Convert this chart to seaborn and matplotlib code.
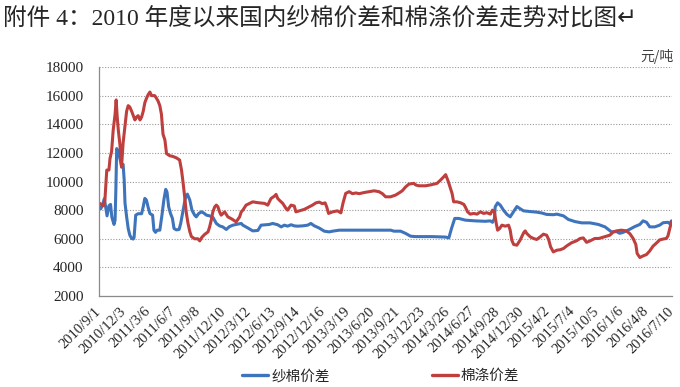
import matplotlib
matplotlib.use('Agg')
import matplotlib.pyplot as plt
import seaborn as sns
import pandas as pd
from matplotlib.lines import Line2D

# x axis: calendar days counted from the first date
start_date = '2010-09-01'
tick_labels = ['2010/9/1', '2010/12/3', '2011/3/6', '2011/6/7', '2011/9/8', '2011/12/10',
               '2012/3/12', '2012/6/13', '2012/9/14', '2012/12/16', '2013/3/19', '2013/6/20',
               '2013/9/21', '2013/12/23', '2014/3/26', '2014/6/27', '2014/9/28', '2014/12/30',
               '2015/4/2', '2015/7/4', '2015/10/5', '2016/1/6', '2016/4/8', '2016/7/10']
y_ticks = [2000, 4000, 6000, 8000, 10000, 12000, 14000, 16000, 18000]

series_names = ['纱棉价差', '棉涤价差']
series_colors = ['#3E74BC', '#BF3F3E']

# 纱棉价差 (yarn - cotton spread)
yarn_days = [0, 7, 15, 20, 30, 37, 43, 48, 56, 60, 63, 66, 72, 78, 84, 90, 94, 97, 103, 109,
             115, 122, 128, 131, 137, 146, 159, 165, 171, 177, 183, 190, 200, 205, 211, 217,
             227, 235, 242, 249, 254, 260, 267, 274, 280, 289, 299, 305, 314, 322, 330, 339,
             347, 357, 363, 372, 382, 391, 401, 413, 425, 438, 450, 462, 475, 487, 500, 512,
             531, 537, 555, 574, 593, 605, 624, 636, 648, 667, 680, 692, 704, 717, 729, 741,
             760, 779, 791, 804, 822, 841, 859, 872, 897, 959, 1020, 1089, 1101, 1126, 1145,
             1163, 1182, 1244, 1293, 1306, 1316, 1328, 1343, 1368, 1405, 1442, 1461, 1469,
             1476, 1479, 1488, 1498, 1510, 1523, 1535, 1548, 1560, 1572, 1585, 1610, 1634,
             1653, 1671, 1696, 1709, 1734, 1752, 1777, 1802, 1833, 1864, 1889, 1913, 1932,
             1944, 1957, 1975, 2000, 2019, 2031, 2044, 2056, 2075, 2093, 2106, 2124, 2131, 2137]
yarn_values = [8200, 8100, 8500, 8800, 7600, 8300, 8400, 7500, 7000, 7300, 9500, 12300, 12100,
               11600, 11100, 11200, 10100, 8500, 7550, 6720, 6250, 6020, 5980, 6100, 7650,
               7750, 7750, 8230, 8820, 8700, 8230, 7760, 7650, 6600, 6450, 6600, 6600, 7650,
               8700, 9450, 9250, 8230, 7760, 7430, 6720, 6620, 6650, 7070, 8000, 8820, 9120,
               8700, 8000, 7650, 7530, 7760, 7880, 7800, 7650, 7600, 7500, 7070, 6900, 6830,
               6650, 6850, 6950, 7000, 7070, 6950, 6760, 6550, 6580, 6950, 6980, 7000, 7070,
               6980, 6830, 6950, 6880, 6980, 6900, 6880, 6900, 6950, 7070, 6900, 6750, 6530,
               6480, 6530, 6600, 6600, 6600, 6600, 6530, 6530, 6370, 6180, 6150, 6150, 6120,
               6060, 6720, 7420, 7420, 7300, 7250, 7220, 7250, 7150, 7400, 8230, 8510, 8350,
               8000, 7700, 7530, 7900, 8250, 8100, 7950, 7900, 7860, 7800, 7700, 7680, 7720,
               7600, 7350, 7200, 7110, 7110, 7000, 6830, 6480, 6500, 6380, 6450, 6600, 6850,
               7000, 7250, 7150, 6830, 6830, 6950, 7120, 7150, 7050, 7250]

# 棉涤价差 (cotton - polyester spread)
poly_days = [0, 16, 22, 29, 37, 41, 47, 53, 60, 64, 68, 72, 78, 84, 90, 97, 103, 109, 115, 122,
             128, 134, 140, 146, 153, 159, 165, 171, 177, 183, 190, 196, 202, 208, 215, 221,
             227, 233, 239, 246, 252, 264, 276, 289, 301, 308, 314, 320, 326, 332, 339, 345,
             357, 369, 376, 384, 394, 407, 413, 419, 425, 432, 438, 444, 450, 456, 469, 481,
             494, 512, 525, 531, 537, 549, 562, 574, 593, 618, 630, 642, 655, 661, 667, 673,
             686, 698, 704, 717, 729, 735, 748, 766, 785, 797, 810, 822, 834, 844, 850, 857,
             872, 890, 903, 911, 921, 934, 946, 959, 971, 990, 1008, 1027, 1045, 1058, 1070,
             1088, 1107, 1120, 1132, 1145, 1157, 1176, 1182, 1194, 1219, 1237, 1250, 1262,
             1275, 1287, 1294, 1303, 1306, 1318, 1324, 1336, 1349, 1362, 1368, 1376, 1386,
             1399, 1411, 1424, 1436, 1448, 1461, 1469, 1476, 1483, 1488, 1495, 1504, 1517,
             1529, 1535, 1541, 1548, 1560, 1572, 1585, 1591, 1597, 1610, 1622, 1634, 1647,
             1659, 1671, 1678, 1686, 1696, 1709, 1721, 1734, 1746, 1764, 1783, 1796, 1808,
             1820, 1833, 1851, 1866, 1889, 1907, 1920, 1932, 1950, 1969, 1982, 1994, 2004,
             2009, 2019, 2031, 2044, 2056, 2068, 2081, 2093, 2106, 2118, 2124, 2131, 2137]
poly_values = [8500, 8300, 8700, 10800, 10800, 11600, 12100, 13600, 14700, 15700, 14500, 13600,
               12600, 11000, 12700, 13900, 14900, 15300, 15200, 14900, 14600, 14300, 14500,
               14600, 14300, 14500, 14900, 15500, 15800, 16050, 16250, 16000, 16000, 16000,
               15800, 15600, 15300, 14700, 13300, 12900, 11950, 11800, 11750, 11650, 11500,
               10800, 9900, 8900, 7800, 7100, 6500, 6150, 6000, 6000, 5850, 6100, 6300, 6480,
               6830, 7300, 7880, 8230, 8350, 8230, 7880, 7650, 7880, 7530, 7400, 7180, 7530,
               7880, 8000, 8350, 8470, 8580, 8520, 8470, 8350, 8810, 8980, 9100, 8820, 8700,
               8470, 8120, 8000, 8350, 8290, 7880, 7950, 8050, 8230, 8350, 8510, 8560, 8450,
               8510, 8230, 7770, 7880, 7950, 7810, 8500, 9170, 9290, 9150, 9200, 9150, 9230,
               9290, 9350, 9290, 9150, 8930, 8930, 9050, 9200, 9350, 9630, 9820, 9870, 9760,
               9700, 9700, 9760, 9820, 9870, 10100, 10330, 10480, 10050, 9870, 9170, 8580,
               8580, 8520, 8400, 8200, 7880, 7720, 7770, 7720, 7880, 7770, 7820, 7720, 8000,
               7880, 7070, 6600, 6700, 6950, 6880, 6950, 6600, 5900, 5600, 5550, 5900, 6410,
               6550, 6370, 6130, 6020, 5950, 6130, 6320, 6250, 5980, 5430, 5080, 5200, 5230,
               5320, 5500, 5720, 5860, 6020, 6060, 5750, 5850, 6020, 6020, 6150, 6250, 6480,
               6550, 6600, 6550, 6350, 6020, 5600, 4970, 4690, 4800, 4900, 5150, 5480, 5700,
               5920, 5980, 6020, 6200, 6720, 7180]

sns.set_style('white')
plt.rcParams['font.family'] = ['Liberation Serif', 'Noto Sans CJK SC', 'DejaVu Sans']
cjk = ['Noto Sans CJK SC', 'DejaVu Sans']

t0 = pd.Timestamp(start_date)
df = pd.concat([
    pd.DataFrame({'date': t0 + pd.to_timedelta(yarn_days, unit='D'),
                  'value': yarn_values, 'series': series_names[0]}),
    pd.DataFrame({'date': t0 + pd.to_timedelta(poly_days, unit='D'),
                  'value': poly_values, 'series': series_names[1]}),
], ignore_index=True)

fig = plt.figure(figsize=(6.8, 3.87), dpi=100)
ax = fig.add_axes([0.1456, 0.2351, 0.8426, 0.5918])

sns.lineplot(data=df, x='date', y='value', hue='series', hue_order=series_names,
             palette=series_colors, linewidth=2.2, legend=False, estimator=None, ax=ax)

tick_dates = pd.to_datetime(tick_labels, format='%Y/%m/%d')
ax.set_xlim(tick_dates[0], tick_dates[-1])
ax.set_ylim(y_ticks[0], y_ticks[-1])
ax.set_xticks(tick_dates)
ax.set_xticklabels(tick_labels, rotation=45, ha='right', va='center',
                   rotation_mode='anchor', fontsize=10.5)
ax.set_yticks(y_ticks)
ax.set_yticklabels([str(v) for v in y_ticks], fontsize=11)
ax.set_xlabel('')
ax.set_ylabel('')

ax.yaxis.grid(True, linestyle=(0, (1, 1.5)), color='#9a9a9a', linewidth=0.8)
ax.xaxis.grid(False)
for side in ['top', 'right']:
    ax.spines[side].set_visible(False)
for side in ['left', 'bottom']:
    ax.spines[side].set_color('#8a8a8a')
    ax.spines[side].set_linewidth(0.9)
ax.tick_params(axis='y', length=0, pad=11)
ax.tick_params(axis='x', length=3.5, width=0.8, color='#8a8a8a', direction='out', pad=6)

fig.text(0.004, 0.953, '附件 4：2010 年度以来国内纱棉价差和棉涤价差走势对比图↵',
         fontsize=17, ha='left', va='center')
fig.text(0.966, 0.853, '元/吨', fontsize=10, ha='center', va='center',
         color='#404040', family=cjk)

handles = [Line2D([], [], color=c, linewidth=2.4) for c in series_colors]
fig.legend(handles, series_names, loc='center', bbox_to_anchor=(0.56, 0.028), ncol=2,
           frameon=False, handlelength=1.8, columnspacing=7, handletextpad=0.2,
           prop={'family': cjk, 'size': 10.5})

fig.savefig('out.png', dpi=100)
